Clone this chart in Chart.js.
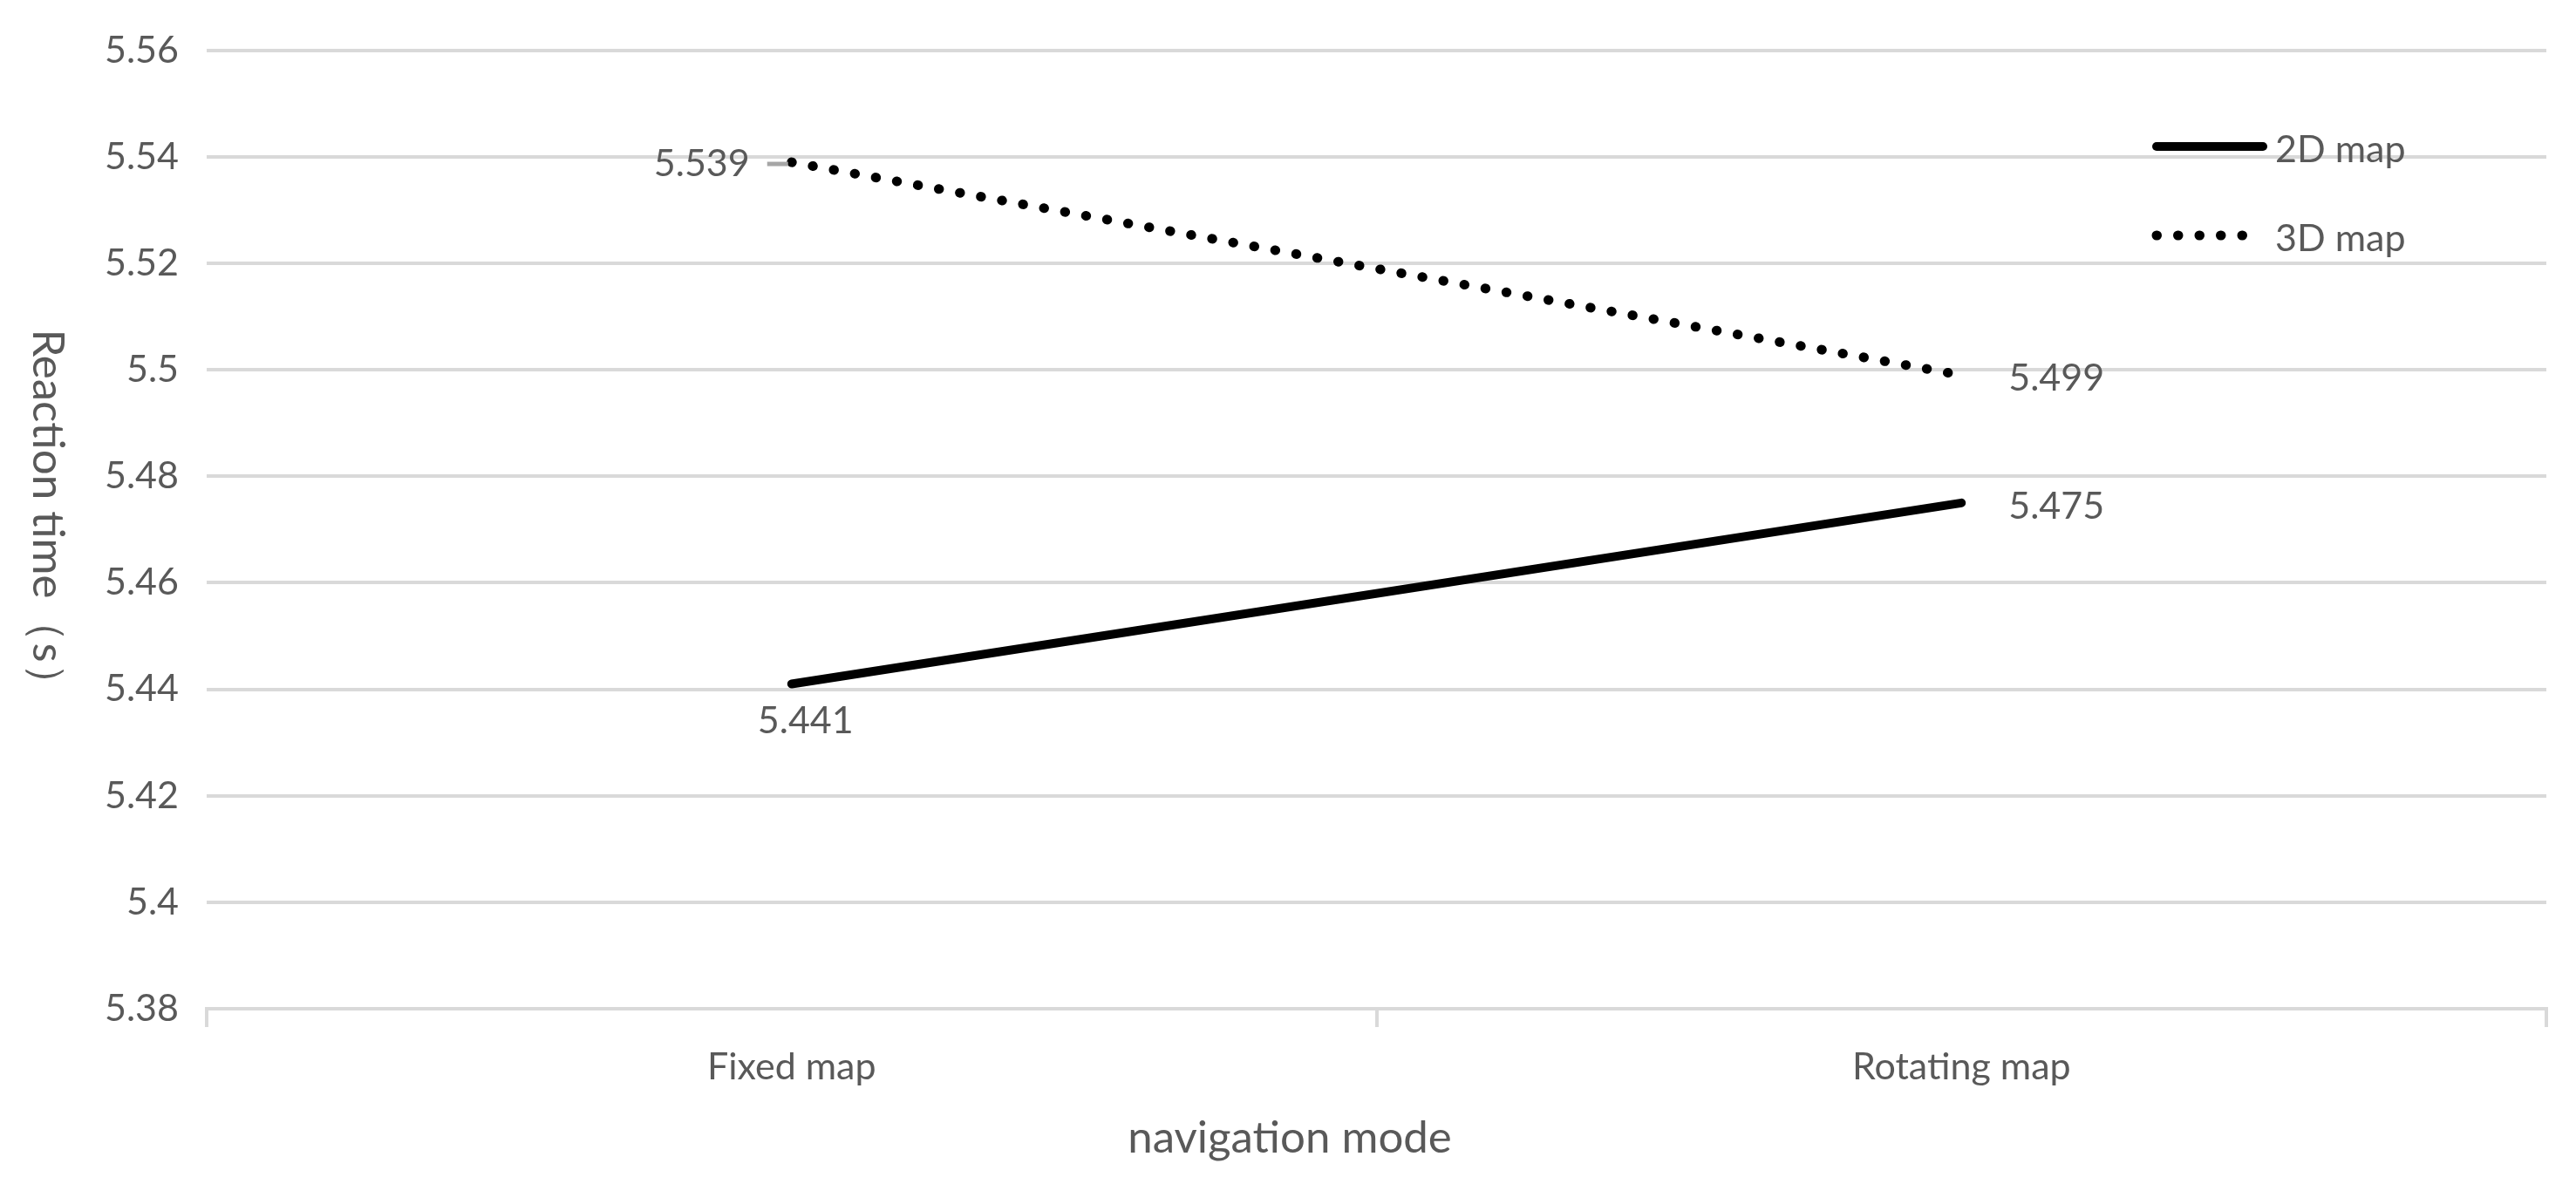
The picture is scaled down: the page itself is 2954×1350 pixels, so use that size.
<!DOCTYPE html>
<html>
<head>
<meta charset="utf-8">
<script src="https://cdn.jsdelivr.net/npm/chart.js@4.4.1/dist/chart.umd.min.js"></script>
<style>
html,body{margin:0;padding:0;background:#ffffff;}
#wrap{width:2954px;height:1350px;position:relative;}
</style>
</head>
<body>
<div id="wrap"><canvas id="c" width="2954" height="1350"></canvas></div>
<script>
// ---- data ----
const categories = ['Fixed map', 'Rotating map'];
const seriesNames = ['2D map', '3D map'];
const values2D = [5.441, 5.475];
const values3D = [5.539, 5.499];
const yMin = 5.38;
const yMax = 5.56;
const yStep = 0.02;
const xTitle = 'navigation mode';
const yTitle = 'Reaction time（s）';

// ---- styles ----
const TEXT = '#595959';
const GRID = '#d9d9d9';
const FONT = 'Lato, "Open Sans", "Noto Sans", sans-serif';
const TICK_SIZE = 43;
const TITLE_SIZE = 51;

// label placement per dataset / point (style only)
const labelPlacement = [
  [ {align:'center', dx:16, dy:43}, {align:'left', dx:54, dy:4} ],
  [ {align:'right', dx:-48, dy:2, leader:true}, {align:'left', dx:54, dy:4} ]
];

const overlay = {
  id: 'overlay',
  afterDatasetsDraw(chart) {
    const ctx = chart.ctx;
    ctx.save();
    // data labels
    ctx.font = TICK_SIZE + 'px ' + FONT;
    ctx.fillStyle = TEXT;
    ctx.textBaseline = 'middle';
    chart.data.datasets.forEach((ds, di) => {
      const meta = chart.getDatasetMeta(di);
      meta.data.forEach((pt, i) => {
        const p = labelPlacement[di][i];
        const txt = String(ds.data[i]);
        ctx.textAlign = p.align;
        ctx.fillText(txt, pt.x + p.dx, pt.y + p.dy);
        if (p.leader) {
          ctx.strokeStyle = '#a6a6a6';
          ctx.lineWidth = 5;
          ctx.lineCap = 'butt';
          ctx.beginPath();
          ctx.moveTo(pt.x + p.dx + 20, pt.y + p.dy);
          ctx.lineTo(pt.x - 4, pt.y + p.dy);
          ctx.stroke();
        }
      });
    });
    // legend
    const lx0 = 2473, lx1 = 2595, ltx = 2609;
    const rows = [168, 270];
    chart.data.datasets.forEach((ds, di) => {
      const y = rows[di];
      ctx.save();
      ctx.strokeStyle = ds.borderColor;
      ctx.lineWidth = ds.borderWidth;
      ctx.lineCap = 'round';
      ctx.setLineDash(ds.borderDash || []);
      ctx.beginPath();
      ctx.moveTo(lx0, y);
      ctx.lineTo(ds.borderDash && ds.borderDash.length ? lx1 - 10 : lx1, y);
      ctx.stroke();
      ctx.restore();
      ctx.fillStyle = TEXT;
      ctx.textAlign = 'left';
      ctx.textBaseline = 'middle';
      ctx.font = TICK_SIZE + 'px ' + FONT;
      ctx.fillText(ds.label, ltx, y + 4);
    });
    // axis titles
    ctx.font = TITLE_SIZE + 'px ' + FONT;
    ctx.fillStyle = TEXT;
    ctx.textAlign = 'center';
    ctx.textBaseline = 'middle';
    ctx.fillText(xTitle, 1479, 1306);
    ctx.save();
    ctx.translate(54, 594);
    ctx.rotate(Math.PI / 2);
    ctx.fillText(yTitle, 0, 0);
    ctx.restore();
    ctx.restore();
  }
};

new Chart(document.getElementById('c'), {
  type: 'line',
  data: {
    labels: categories,
    datasets: [
      {
        label: seriesNames[0],
        data: values2D,
        borderColor: '#000000',
        borderWidth: 10,
        borderCapStyle: 'round',
        pointRadius: 0,
        fill: false,
        tension: 0
      },
      {
        label: seriesNames[1],
        data: values3D,
        borderColor: '#000000',
        borderWidth: 11,
        borderCapStyle: 'round',
        borderDash: [0.5, 24],
        pointRadius: 0,
        fill: false,
        tension: 0
      }
    ]
  },
  options: {
    responsive: false,
    animation: false,
    devicePixelRatio: 1,
    layout: { padding: { left: 0, right: 34, top: 51, bottom: 0 } },
    plugins: {
      legend: { display: false },
      tooltip: { enabled: false },
      title: { display: false }
    },
    scales: {
      x: {
        type: 'category',
        offset: true,
        afterFit(scale) { scale.height = 193; },
        grid: {
          offset: true,
          drawOnChartArea: false,
          drawTicks: true,
          tickLength: 21,
          color: GRID,
          lineWidth: 4
        },
        border: { display: true, color: GRID, width: 4 },
        ticks: {
          color: TEXT,
          font: { family: FONT, size: TICK_SIZE },
          padding: 20,
          maxRotation: 0
        }
      },
      y: {
        min: yMin,
        max: yMax,
        afterFit(scale) { scale.width = 237; },
        grid: {
          drawTicks: false,
          color: GRID,
          lineWidth: 4
        },
        border: { display: false },
        ticks: {
          stepSize: yStep,
          color: TEXT,
          font: { family: FONT, size: TICK_SIZE },
          padding: 32,
          callback: (v) => String(+(+v).toFixed(2))
        }
      }
    }
  },
  plugins: [overlay]
});
</script>
</body>
</html>
